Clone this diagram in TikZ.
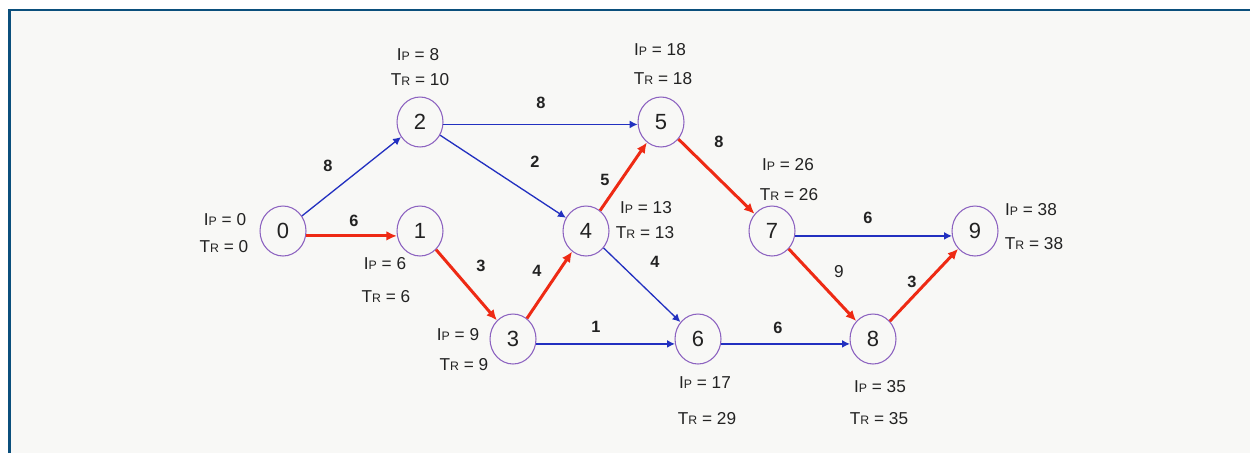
\documentclass[tikz,border=0pt]{standalone}
\usepackage{fontspec}
\setmainfont{Liberation Sans}
\usetikzlibrary{arrows.meta,shapes.geometric}
\definecolor{FrameBlue}{HTML}{0B4F7C}
\definecolor{PaperGray}{HTML}{F8F8F6}
\definecolor{RingPurple}{HTML}{8C62C0}
\definecolor{LineBlue}{HTML}{2230C0}
\definecolor{CritRed}{HTML}{EE2A14}
\definecolor{TextDark}{HTML}{222222}
\newcommand{\capsm}[1]{{\fontsize{7pt}{7pt}\selectfont #1}}
\newcommand{\ipv}[1]{I\capsm{P} = #1}
\newcommand{\trv}[1]{T\capsm{R} = #1}

\begin{document}
\begin{tikzpicture}[x=0.02cm,y=-0.02cm,
          every node/.style={text=TextDark},
          ev/.style={ellipse,draw=RingPurple,line width=0.6pt,minimum width=0.92cm,
            minimum height=1.0cm,inner sep=0pt,font=\fontsize{12.5pt}{13pt}\selectfont},
          lbl/.style={font=\fontsize{9.8pt}{11pt}\selectfont,inner sep=0pt},
          wt/.style={font=\fontsize{9.3pt}{10pt}\selectfont\bfseries,inner sep=0pt},
          ar/.style={-{Latex[length=4.5pt,width=4.5pt]},LineBlue,line width=0.75pt},
          cr/.style={-{Latex[length=6pt,width=5.5pt]},CritRed,line width=1.7pt}]
        \useasboundingbox (0,0) rectangle (1250,453);
        % paper and frame
        \fill[PaperGray] (8,9) rectangle (1250,453);
        \draw[FrameBlue,line width=1.7pt] (9.5,453) -- (9.5,10) -- (1250,10);
        % events
        \node[ev] (n0) at (283,231) {0};
        \node[ev] (n1) at (420,231) {1};
        \node[ev] (n2) at (420,122) {2};
        \node[ev] (n3) at (513,339) {3};
        \node[ev] (n4) at (586,231) {4};
        \node[ev] (n5) at (661,122) {5};
        \node[ev] (n6) at (698,339) {6};
        \node[ev] (n7) at (772,231) {7};
        \node[ev] (n8) at (873,339) {8};
        \node[ev] (n9) at (975,231) {9};
        % earliest / latest times
        \node[lbl] (p0) at (225,220) {\ipv{0}};
        \node[lbl] (r0) at (224,247) {\trv{0}};
        \node[lbl] (p1) at (385,264) {\ipv{6}};
        \node[lbl] (r1) at (386,297) {\trv{6}};
        \node[lbl] (p2) at (418,55) {\ipv{8}};
        \node[lbl] (r2) at (420,80) {\trv{10}};
        \node[lbl] (p3) at (458,335) {\ipv{9}};
        \node[lbl] (r3) at (464,365) {\trv{9}};
        \node[lbl] (p4) at (646,208) {\ipv{13}};
        \node[lbl] (r4) at (645,233) {\trv{13}};
        \node[lbl] (p5) at (660,50) {\ipv{18}};
        \node[lbl] (r5) at (663,79) {\trv{18}};
        \node[lbl] (p6) at (705,383) {\ipv{17}};
        \node[lbl] (r6) at (707,419) {\trv{29}};
        \node[lbl] (p7) at (788,165) {\ipv{26}};
        \node[lbl] (r7) at (789,195) {\trv{26}};
        \node[lbl] (p8) at (880,387) {\ipv{35}};
        \node[lbl] (r8) at (879,419) {\trv{35}};
        \node[lbl] (p9) at (1031,210) {\ipv{38}};
        \node[lbl] (r9) at (1034,244) {\trv{38}};
        % activities
        \draw[ar] (n0) -- (n2);
        \draw[cr] (n0.-12) -- (n1.192);
        \draw[ar] (n2.-6) -- (n5.186);
        \draw[ar] (n2) -- (n4);
        \draw[cr] (n1) -- (n3);
        \draw[cr] (n3) -- (n4);
        \draw[cr] (n4) -- (n5);
        \draw[ar] (n4) -- (n6);
        \draw[ar] (n3.-12) -- (n6.192);
        \draw[cr] (n5) -- (n7);
        \draw[ar] (n7.-12) -- (n9.192);
        \draw[cr] (n7) -- (n8);
        \draw[ar] (n6.-12) -- (n8.192);
        \draw[cr] (n8) -- (n9);
        % durations
        \node[wt] (w02) at (328,166) {8};
        \node[wt] (w01) at (354,221) {6};
        \node[wt] (w25) at (541,103) {8};
        \node[wt] (w24) at (535,162) {2};
        \node[wt] (w13) at (481,266) {3};
        \node[wt] (w34) at (537,271) {4};
        \node[wt] (w45) at (605,180) {5};
        \node[wt] (w46) at (655,262) {4};
        \node[wt] (w36) at (596,327) {1};
        \node[wt] (w57) at (719,142) {8};
        \node[wt] (w79) at (868,218) {6};
        \node[lbl] (w78) at (839,272) {9};
        \node[wt] (w68) at (778,328) {6};
        \node[wt] (w89) at (912,282) {3};
      \end{tikzpicture}
\end{document}
